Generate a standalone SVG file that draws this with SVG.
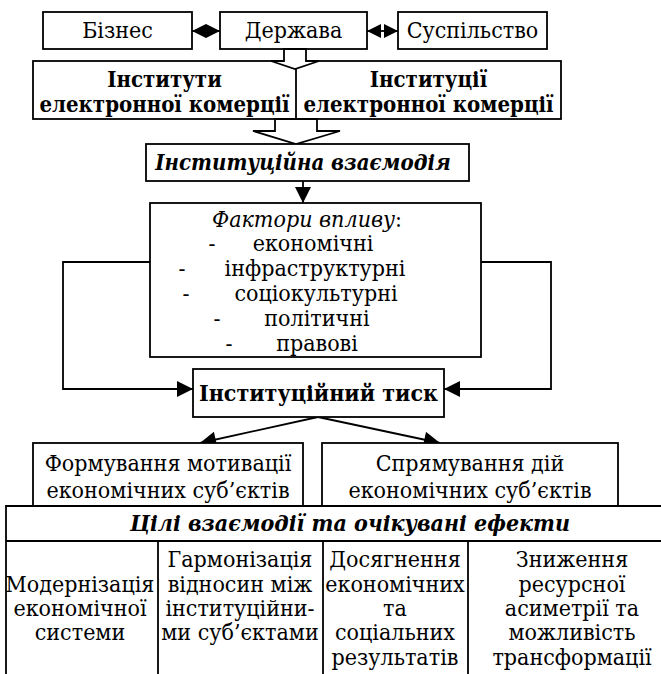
<svg xmlns="http://www.w3.org/2000/svg" width="661" height="674" viewBox="0 0 661 674">
<style>
.t{font-family:"DejaVu Serif Condensed","DejaVu Serif",serif;font-stretch:condensed;font-size:23px;text-anchor:middle;fill:#000}
.b{font-weight:bold}
.i{font-style:italic}
.s22{font-size:22px}
.bx{fill:#fff;stroke:#000;stroke-width:1.8}
.ln{fill:none;stroke:#000;stroke-width:1.8}
.ha{fill:#fff;stroke:#000;stroke-width:1.8;stroke-linejoin:miter}
</style>
<defs>
<marker id="ah" viewBox="0 0 10 10" refX="10" refY="5" markerUnits="userSpaceOnUse" markerWidth="17" markerHeight="16" orient="auto-start-reverse">
<path d="M0,0 L10,5 L0,10 z" fill="#000"/>
</marker>
<marker id="dh" viewBox="0 0 10 10" refX="10" refY="5" markerUnits="userSpaceOnUse" markerWidth="14" markerHeight="18" orient="auto-start-reverse">
<path d="M0,0 L10,5 L0,10 z" fill="#000"/>
</marker>
</defs>
<rect width="661" height="674" fill="#fff"/>

<g id="connectors">
<line class="ln" x1="192" y1="31" x2="220" y2="31" marker-start="url(#dh)" marker-end="url(#dh)"/>
<line class="ln" x1="367" y1="31" x2="398" y2="31" marker-start="url(#dh)" marker-end="url(#dh)"/>
<line class="ln" x1="303" y1="181" x2="303" y2="203" marker-end="url(#ah)"/>
<polyline class="ln" points="150,262 63,262 63,389 193,389" marker-end="url(#ah)"/>
<polyline class="ln" points="481,262 551,262 551,389 444,389" marker-end="url(#ah)"/>
<line class="ln" x1="318" y1="417" x2="200" y2="443" marker-end="url(#ah)"/>
<line class="ln" x1="318" y1="417" x2="440" y2="443" marker-end="url(#ah)"/>
</g>

<g id="biznes">
<rect class="bx" x="43" y="12" width="149" height="37"/>
<text class="t" x="117.5" y="38">Бізнес</text>
</g>
<g id="derzhava">
<rect class="bx" x="220" y="12" width="147" height="37"/>
<text class="t" x="293.5" y="38">Держава</text>
</g>
<g id="suspilstvo">
<rect class="bx" x="398" y="12" width="149" height="37"/>
<text class="t" x="472.5" y="38">Суспільство</text>
</g>

<g id="instytuty">
<rect class="bx" x="33" y="61" width="528" height="58"/>
<line class="ln" x1="296" y1="68" x2="296" y2="119"/>
<text class="t b s22" x="164.5" y="87">Інститути</text>
<text class="t b s22" x="164.5" y="112">електронної комерції</text>
<text class="t b s22" x="428.5" y="87">Інституції</text>
<text class="t b s22" x="428.5" y="112">електронної комерції</text>
</g>
<polygon class="ha" points="284,49 284,61 271,61 295,69 319,61 306,61 306,49"/>
<polygon class="ha" points="275,119 275,131 253,131 296,144 340,131 317,131 317,119"/>

<g id="vzayemodiya">
<rect class="bx" x="146" y="144" width="323" height="37"/>
<text class="t b i s22" x="303" y="170">Інституційна взаємодія</text>
</g>

<g id="faktory">
<rect class="bx" x="150" y="203" width="331" height="154"/>
<text class="t" x="307" y="227"><tspan font-style="italic">Фактори впливу</tspan>:</text>
<text class="t" x="212" y="251">-</text><text class="t" x="313" y="251">економічні</text>
<text class="t" x="182" y="276">-</text><text class="t" x="315" y="276">інфраструктурні</text>
<text class="t" x="186" y="301">-</text><text class="t" x="316" y="301">соціокультурні</text>
<text class="t" x="217" y="326">-</text><text class="t" x="317" y="326">політичні</text>
<text class="t" x="229" y="351">-</text><text class="t" x="317" y="351">правові</text>
</g>

<g id="tysk">
<rect class="bx" x="193" y="369" width="251" height="48"/>
<text class="t b" x="318.5" y="401">Інституційний тиск</text>
</g>

<g id="formuvannya">
<rect class="bx" x="33" y="443" width="270" height="63"/>
<text class="t" x="168" y="471">Формування мотивації</text>
<text class="t" x="168" y="498">економічних суб’єктів</text>
</g>
<g id="spryamuvannya">
<rect class="bx" x="322" y="443" width="296" height="63"/>
<text class="t" x="470" y="471">Спрямування дій</text>
<text class="t" x="470" y="498">економічних суб’єктів</text>
</g>

<g id="table">
<polyline class="ln" points="6,674 6,506 661,506"/>
<line class="ln" x1="6" y1="541" x2="661" y2="541"/>
<line class="ln" x1="158" y1="541" x2="158" y2="674"/>
<line class="ln" x1="323" y1="541" x2="323" y2="674"/>
<line class="ln" x1="468" y1="541" x2="468" y2="674"/>
<text class="t b i" x="350" y="531">Цілі взаємодії та очікувані ефекти</text>
<text class="t" x="80" y="592">Модернізація</text>
<text class="t" x="80" y="616">економічної</text>
<text class="t" x="80" y="640">системи</text>
<text class="t" x="240" y="567">Гармонізація</text>
<text class="t" x="240" y="592">відносин між</text>
<text class="t" x="240" y="616">інституційни-</text>
<text class="t" x="240" y="640">ми суб’єктами</text>
<text class="t" x="395" y="567">Досягнення</text>
<text class="t" x="395" y="592">економічних</text>
<text class="t" x="395" y="616">та</text>
<text class="t" x="395" y="640">соціальних</text>
<text class="t" x="395" y="665">результатів</text>
<text class="t" x="572" y="567">Зниження</text>
<text class="t" x="572" y="592">ресурсної</text>
<text class="t" x="572" y="616">асиметрії та</text>
<text class="t" x="572" y="640">можливість</text>
<text class="t" x="572" y="665">трансформації</text>
</g>
</svg>
